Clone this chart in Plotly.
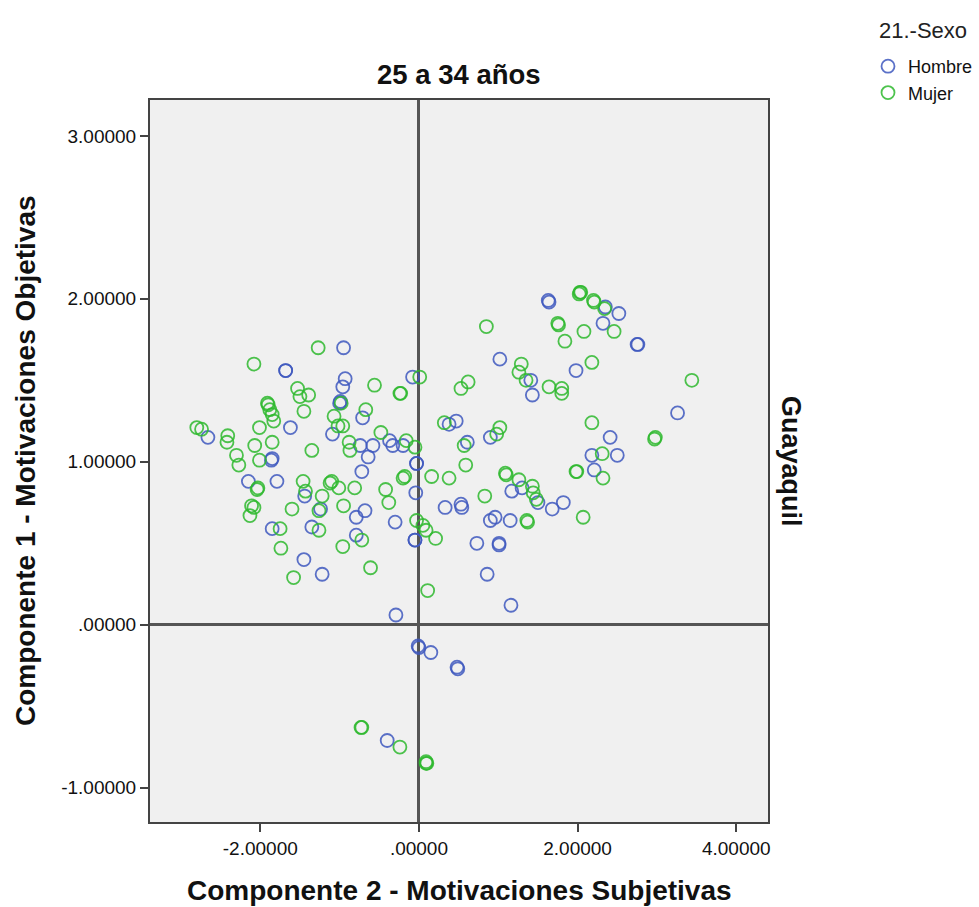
import plotly.graph_objects as go

# Factor scores by sex, group "25 a 34 años" (Guayaquil)
hombre_x = [-2.66, -1.85, -1.86, -1.62, -1.68, -1.68, -0.95, -0.93, -0.96, -1.00, -0.99,
            -1.09, -0.74, -0.71, -0.58, -0.37, -0.33, -0.20, -0.08, 1.02, 1.41, 1.43,
            1.63, 1.64, 0.38, 0.47, 0.90, 0.61, -0.64, -0.03, -0.03, -0.72, -0.04, -0.68,
            -0.79, -0.30, -0.79, -0.05, -0.05, 0.33, 0.53, 0.54, 1.30, 1.17, 1.50, 1.68,
            1.82, 0.90, 0.96, 1.15, 0.73, 1.01, 1.01, 0.86, 1.16, -0.29, -0.01, 0.00,
            0.15, 0.48, 0.49, -0.40, 2.35, 2.52, 2.32, 2.75, 2.76, 1.98, 3.26, 2.41,
            2.18, 2.50, 2.21, -2.15, -1.79, -1.44, -1.24, -1.85, -1.35, -1.45, -1.22]
hombre_y = [1.15, 1.02, 1.01, 1.21, 1.56, 1.56, 1.70, 1.51, 1.46, 1.36, 1.37,
            1.17, 1.10, 1.27, 1.10, 1.13, 1.10, 1.10, 1.52, 1.63, 1.50, 1.41,
            1.99, 1.98, 1.23, 1.25, 1.15, 1.12, 1.03, 0.99, 0.99, 0.94, 0.81, 0.70,
            0.66, 0.63, 0.55, 0.52, 0.52, 0.72, 0.74, 0.72, 0.84, 0.82, 0.75, 0.71,
            0.75, 0.64, 0.66, 0.64, 0.50, 0.50, 0.49, 0.31, 0.12, 0.06, -0.13, -0.14,
            -0.17, -0.26, -0.27, -0.71, 1.95, 1.91, 1.85, 1.72, 1.72, 1.56, 1.30, 1.15,
            1.04, 1.04, 0.95, 0.88, 0.88, 0.79, 0.71, 0.59, 0.60, 0.40, 0.31]

mujer_x = [-2.80, -2.74, -2.41, -2.42, -2.30, -2.27, -2.07, -2.01, -1.85, -2.08, -1.27,
           -1.53, -1.50, -1.39, -1.91, -1.90, -1.88, -1.85, -1.83, -1.45, -0.98, -1.07,
           -0.96, -1.02, -0.88, -0.87, -1.35, 0.85, 1.75, 1.76, 1.84, 1.29, 1.26, 1.35,
           1.64, 1.80, 1.80, 0.01, -0.56, -0.24, -0.23, 0.62, 0.53, -0.67, 0.32, 1.02,
           0.98, 0.57, -0.48, -0.16, -0.05, 2.03, 2.02, 2.04, 2.20, 2.21, 2.34, 2.46,
           2.08, 2.18, 3.44, 2.18, 2.98, 2.97, 2.31, 1.98, 1.99, 2.32, 2.07, -2.01,
           -2.03, -2.04, -2.11, -2.08, -2.13, -1.46, -1.43, -1.22, -1.12, -1.10, -1.01,
           -0.81, -1.60, -1.26, -0.95, -1.75, -1.26, -1.74, -0.96, -1.58, 0.59, -0.20,
           -0.18, 0.16, 0.38, -0.42, -0.38, -0.03, 0.05, 0.09, 0.21, -0.72, 0.83, 1.09,
           1.10, 1.26, 1.43, 1.44, 1.48, 1.36, 1.37, -0.61, 0.11, -0.73, -0.72, -0.24,
           0.09, 0.10, 0.09]
mujer_y = [1.21, 1.20, 1.16, 1.12, 1.04, 0.98, 1.10, 1.21, 1.12, 1.60, 1.70,
           1.45, 1.40, 1.41, 1.36, 1.35, 1.32, 1.29, 1.25, 1.31, 1.36, 1.28,
           1.22, 1.22, 1.12, 1.07, 1.07, 1.83, 1.85, 1.84, 1.74, 1.60, 1.55, 1.50,
           1.46, 1.45, 1.42, 1.52, 1.47, 1.42, 1.42, 1.49, 1.45, 1.32, 1.24, 1.21,
           1.17, 1.10, 1.18, 1.13, 1.09, 2.04, 2.03, 2.04, 1.99, 1.98, 1.94, 1.80,
           1.80, 1.61, 1.50, 1.24, 1.15, 1.14, 1.05, 0.94, 0.94, 0.90, 0.66, 1.01,
           0.84, 0.83, 0.73, 0.72, 0.67, 0.88, 0.82, 0.79, 0.87, 0.88, 0.84,
           0.84, 0.71, 0.70, 0.73, 0.59, 0.58, 0.47, 0.48, 0.29, 0.98, 0.90,
           0.91, 0.91, 0.90, 0.83, 0.75, 0.64, 0.61, 0.58, 0.53, 0.52, 0.79, 0.93,
           0.92, 0.89, 0.85, 0.81, 0.77, 0.64, 0.63, 0.35, 0.21, -0.63, -0.63, -0.75,
           -0.84, -0.85, -0.85]

x_ticks = [-2, 0, 2, 4]
x_tick_text = ["-2.00000", ".00000", "2.00000", "4.00000"]
y_ticks = [-1, 0, 1, 2, 3]
y_tick_text = ["-1.00000", ".00000", "1.00000", "2.00000", "3.00000"]

BLUE = "rgba(62,88,190,0.85)"
GREEN = "rgba(46,184,46,0.85)"
FONT = "Liberation Sans, Arial, sans-serif"

fig = go.Figure()
fig.add_trace(go.Scatter(
    x=hombre_x, y=hombre_y, mode="markers", name="Hombre",
    marker=dict(symbol="circle-open", size=13, color=BLUE, line=dict(width=1.8, color=BLUE)),
))
fig.add_trace(go.Scatter(
    x=mujer_x, y=mujer_y, mode="markers", name="Mujer",
    marker=dict(symbol="circle-open", size=13, color=GREEN, line=dict(width=1.8, color=GREEN)),
))

axis_common = dict(
    showgrid=False,
    zeroline=True, zerolinecolor="#555555", zerolinewidth=2.5,
    showline=True, mirror=True, linecolor="#444444", linewidth=2,
    ticks="outside", ticklen=8, tickwidth=2, tickcolor="#444444",
    tickfont=dict(family=FONT, size=19, color="#111111"),
)

fig.update_layout(
    width=979, height=907,
    margin=dict(l=150, r=211, t=100, b=85, autoexpand=False),
    paper_bgcolor="white",
    plot_bgcolor="#F0F0F0",
    xaxis=dict(range=[-3.39, 4.40], tickvals=x_ticks, ticktext=x_tick_text, **axis_common),
    yaxis=dict(range=[-1.21, 3.22], tickvals=y_ticks, ticktext=y_tick_text, **axis_common),
    showlegend=True,
    legend=dict(
        font=dict(family=FONT, size=18, color="#111111"),
        x=(868 - 150) / 618, y=(822 - 48) / 722, xanchor="left", yanchor="top",
        bgcolor="rgba(0,0,0,0)", itemwidth=30, tracegroupgap=0,
    ),
    annotations=[
        # legend heading
        dict(text="21.-Sexo", xref="paper", yref="paper", x=(877 - 150) / 618, y=1.0,
             xanchor="left", yanchor="middle", yshift=70, showarrow=False,
             font=dict(family=FONT, size=22, color="#222222")),
        dict(text="<b>25 a 34 años</b>", xref="paper", yref="paper", x=0.5, y=1.0,
             xanchor="center", yanchor="middle", yshift=26, showarrow=False,
             font=dict(family=FONT, size=27.5, color="#111111")),
        dict(text="<b>Componente 2 - Motivaciones Subjetivas</b>", xref="paper", yref="paper",
             x=0.5, y=0, xanchor="center", yanchor="middle", yshift=-68, showarrow=False,
             font=dict(family=FONT, size=28, color="#111111")),
        dict(text="<b>Componente 1 - Motivaciones Objetivas</b>", xref="paper", yref="paper",
             x=0, y=0.5, xanchor="center", yanchor="middle", xshift=-125, textangle=-90,
             showarrow=False, font=dict(family=FONT, size=28, color="#111111")),
        dict(text="<b>Guayaquil</b>", xref="paper", yref="paper",
             x=1, y=0.5, xanchor="center", yanchor="middle", xshift=23, textangle=90,
             showarrow=False, font=dict(family=FONT, size=27, color="#111111")),
    ],
)

fig.write_html("out.html")
